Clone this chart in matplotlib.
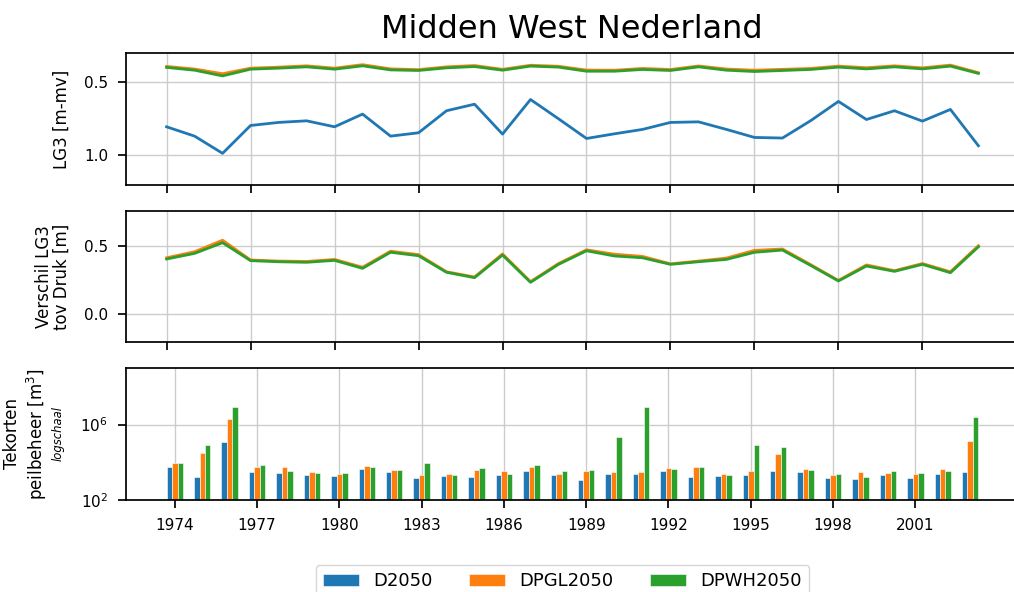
import numpy as np
import matplotlib
matplotlib.use('Agg')
import matplotlib.pyplot as plt

# years on the x axis
years = list(range(1974, 2004))
labels = ['D2050', 'DPGL2050', 'DPWH2050']
colors = ['tab:blue', 'tab:orange', 'tab:green']

# LG3 [m-mv] per year
lg3_d2050 = [0.804, 0.868, 0.986, 0.795, 0.774, 0.763, 0.804, 0.717, 0.868, 0.845,
             0.694, 0.649, 0.854, 0.617, 0.749, 0.884, 0.852, 0.822, 0.774, 0.770,
             0.822, 0.877, 0.881, 0.763, 0.630, 0.754, 0.694, 0.765, 0.685, 0.934]
lg3_dpgl2050 = [0.390, 0.408, 0.440, 0.402, 0.395, 0.386, 0.402, 0.378, 0.407, 0.412,
                0.393, 0.384, 0.410, 0.382, 0.389, 0.415, 0.416, 0.404, 0.411, 0.387,
                0.408, 0.416, 0.410, 0.404, 0.388, 0.399, 0.386, 0.400, 0.381, 0.433]
lg3_dpwh2050 = [0.397, 0.416, 0.455, 0.409, 0.402, 0.393, 0.409, 0.386, 0.414, 0.418,
                0.400, 0.391, 0.416, 0.388, 0.395, 0.423, 0.423, 0.411, 0.418, 0.393,
                0.416, 0.425, 0.418, 0.411, 0.395, 0.407, 0.393, 0.407, 0.388, 0.438]

# verschil LG3 tov D2050 [m]
diff_dpgl2050 = [0.412, 0.456, 0.540, 0.396, 0.388, 0.385, 0.400, 0.343, 0.460, 0.435,
                 0.310, 0.272, 0.440, 0.238, 0.370, 0.470, 0.438, 0.422, 0.368, 0.388,
                 0.410, 0.466, 0.476, 0.363, 0.247, 0.360, 0.318, 0.370, 0.310, 0.500]
diff_dpwh2050 = [0.403, 0.444, 0.522, 0.391, 0.383, 0.379, 0.393, 0.335, 0.452, 0.427,
                 0.306, 0.267, 0.432, 0.233, 0.364, 0.463, 0.425, 0.412, 0.364, 0.383,
                 0.400, 0.452, 0.468, 0.357, 0.243, 0.352, 0.313, 0.364, 0.303, 0.492]

# tekorten peilbeheer [m3]
tek_d2050 = [5400, 1600, 112000, 3000, 2800, 1950, 1800, 4300, 3000, 1450,
             1800, 1650, 1950, 3300, 2050, 1100, 2400, 2400, 3300, 1650,
             1850, 2200, 3300, 3000, 1500, 1300, 2050, 1500, 2400, 3000]
tek_dpgl2050 = [8900, 32000, 2000000, 5600, 5600, 3000, 2400, 6600, 3700, 2200,
                2400, 3900, 3300, 5600, 2400, 3500, 3000, 3000, 5000, 5600,
                2400, 3500, 25700, 4300, 2050, 3000, 2800, 2400, 4300, 138000]
tek_dpwh2050 = [8500, 85000, 8500000, 7200, 3300, 2800, 2600, 5400, 3700, 8500,
                1950, 4600, 2400, 7200, 3300, 3900, 219000, 9100000, 4300, 5600,
                2200, 78000, 66000, 3900, 2400, 1700, 3300, 2800, 3500, 2600000]

plt.rcParams.update({
    'font.family': 'DejaVu Sans',
    'font.size': 12,
    'axes.labelsize': 12,
    'xtick.labelsize': 11,
    'ytick.labelsize': 11,
    'text.color': 'black',
    'axes.labelcolor': 'black',
    'axes.edgecolor': 'black',
    'axes.linewidth': 1.25,
    'xtick.major.size': 6,
    'ytick.major.size': 6,
    'xtick.major.width': 1.25,
    'ytick.major.width': 1.25,
    'xtick.major.pad': 7,
    'ytick.major.pad': 7,
    'grid.color': '.8',
    'grid.linewidth': 1,
})

fig = plt.figure(figsize=(10.14, 5.92), dpi=100)
left = 126 / 1014
width = 893 / 1014
ax1 = fig.add_axes([left, 0.687, width, 0.223])
ax2 = fig.add_axes([left, 0.4218, width, 0.2218])
ax3 = fig.add_axes([left, 0.1559, width, 0.222])

# LG3
ax1.plot(years, lg3_d2050, color=colors[0], lw=2)
ax1.plot(years, lg3_dpgl2050, color=colors[1], lw=2)
ax1.plot(years, lg3_dpwh2050, color=colors[2], lw=2)
ax1.set_ylim(1.205, 0.30)
ax1.set_yticks([0.5, 1.0])
ax1.set_ylabel('LG3 [m-mv]')
ax1.yaxis.set_label_coords(-0.062, 0.5)

# verschil
ax2.plot(years, diff_dpgl2050, color=colors[1], lw=2)
ax2.plot(years, diff_dpwh2050, color=colors[2], lw=2)
ax2.set_ylim(-0.204, 0.753)
ax2.set_yticks([0.0, 0.5])
ax2.set_ylabel('Verschil LG3\ntov Druk [m]', linespacing=0.97)
ax2.yaxis.set_label_coords(-0.062, 0.5)

for ax in (ax1, ax2):
    ax.set_xticks(years[::3])
    ax.set_xticklabels([])
    ax.grid(True)

# tekorten, log scale
pos = np.arange(len(years))
w = 0.2
ax3.bar(pos - w, tek_d2050, w, color=colors[0], label=labels[0],
        edgecolor='white', linewidth=0.4)
ax3.bar(pos, tek_dpgl2050, w, color=colors[1], label=labels[1],
        edgecolor='white', linewidth=0.4)
ax3.bar(pos + w, tek_dpwh2050, w, color=colors[2], label=labels[2],
        edgecolor='white', linewidth=0.4)
ax3.set_yscale('log')
ax3.set_ylim(1e2, 1e9)
ax3.set_yticks([1e2, 1e6])
ax3.minorticks_off()
ax3.set_xticks(pos[::3])
ax3.set_xticklabels([str(y) for y in years[::3]])
ax3.set_ylabel('Tekorten\npeilbeheer [m$^3$]')
ax3.yaxis.set_label_coords(-0.086, 0.5)
ax3.text(-0.0755, 0.5, 'logschaal', transform=ax3.transAxes, rotation=90,
         ha='center', va='center', style='italic', fontsize=8.4)
ax3.grid(True)
ax3.set_axisbelow(True)

fig.text(572 / 1014, 1 - 38.3 / 592, 'Midden West Nederland', fontsize=23,
         ha='center', va='baseline')

fig.legend(loc='upper center', bbox_to_anchor=(562.5 / 1014, 1 - 565 / 592),
           borderaxespad=0, ncol=3, fontsize=13, edgecolor='.8')

fig.savefig('out.png', dpi=100)
